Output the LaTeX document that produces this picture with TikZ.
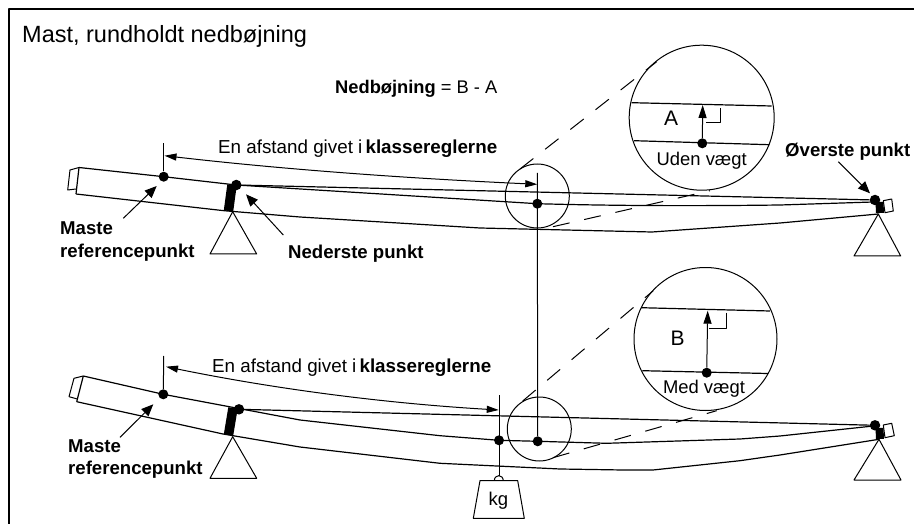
\documentclass[tikz,border=0pt]{standalone}
\usepackage{fontspec}
\setmainfont{Liberation Sans}
\usetikzlibrary{arrows.meta}
\tikzset{
  every path/.style={line join=round},
  thin line/.style={draw=black,line width=1pt},
  mast/.style={draw=black,line width=1.2pt},
  frame/.style={draw=black,line width=2pt},
  pad/.style={draw=black,line width=9.5pt},
  dot/.style={circle,fill=black,inner sep=0pt,minimum size=10.5pt},
  smalldot/.style={circle,fill=black,inner sep=0pt,minimum size=10pt},
  lead/.style={draw=black,line width=1pt,-{Triangle[length=12pt,width=10pt]}},
  dim/.style={draw=black,line width=1pt,{Triangle[length=12pt,width=7pt]}-{Triangle[length=12pt,width=7pt]}},
  lens/.style={draw=black,line width=1pt,dash pattern=on 17pt off 15pt},
  txt/.style={inner sep=0pt,anchor=base west,font=\fontsize{18.8}{22}\selectfont},
  bld/.style={inner sep=0pt,anchor=base west,font=\fontsize{18.6}{22}\selectfont\bfseries},
  mid/.style={inner sep=0pt,anchor=center},
}
\begin{document}
\begin{tikzpicture}[x=1pt,y=-1pt]
\useasboundingbox (0,0) rectangle (914,524);
\draw[frame] (9,524) -- (9,9) -- (914,9);

\node[txt,font=\fontsize{23.5}{27}\selectfont] (title) at (22,43) {Mast, rundholdt nedbøjning};
\node[txt,font=\fontsize{18.3}{22}\selectfont] (formula) at (335,93.3) {\textbf{Nedbøjning} = B - A};

% ---------- upper mast
\draw[thin line] (79,167.5) -- (70,170) -- (67.7,190) -- (76,189);
\draw[mast] (79,167.5) -- (76,194);
\node[smalldot] (uref) at (163.7,176.7) {};
\node[dot] (ulow) at (236.3,185) {};
\node[smalldot] (umid) at (537.3,203.7) {};
\node[dot] (utop) at (875,200) {};
\draw[mast] (79,167.5) -- (uref.center) -- (ulow.center) -- (umid.center)
  .. controls (620,206) and (700,206) .. (780,205) -- (873,202);
\draw[mast] (76,194) -- (224,210.7) -- (300,217) -- (480,228) -- (652,232) -- (780,223) -- (878.3,214);
\draw[mast] (ulow) -- (utop);
\draw[pad] (232,185) -- (228.5,211);
\draw[pad,line width=8pt] (879.5,202) -- (880,213);
\draw[thin line,fill=white] (883.3,200.7) -- (891.7,199) -- (893.3,211) -- (885,212.7) -- cycle;
\coordinate (uLA) at (232.7,211.7);
\draw[thin line] (uLA) -- (210,254) -- (256.7,254) -- cycle;
\coordinate (uRA) at (878.3,214);
\draw[thin line] (uRA) -- (854,256) -- (900.7,256) -- cycle;

\coordinate (utick) at (163.7,143.3);
\draw[thin line] (utick) -- (uref);
\coordinate (dL) at (164.5,155.7);
\coordinate (dR) at (537.3,184.3);
\draw[dim] (dL) .. controls (280,169) and (400,178) .. (dR);
\node[txt] (udist) at (218,153.3) {En afstand givet i\,\textbf{klassereglerne}};

% shared vertical
\node[smalldot] (lmid) at (537.7,441.3) {};
\coordinate (vtop) at (537.3,173);
\draw[thin line] (vtop) -- (lmid);

% leaders upper
\coordinate (ul1) at (123.3,218.3); \coordinate (ul1t) at (156.7,186);
\draw[lead] (ul1) -- (ul1t);
\coordinate (ul2) at (283.3,235); \coordinate (ul2t) at (246,194.3);
\draw[lead] (ul2) -- (ul2t);
\coordinate (ul3) at (838.3,161.7); \coordinate (ul3t) at (870,193.3);
\draw[lead] (ul3) -- (ul3t);
\node[bld] (m1) at (60,234.5) {Maste};
\node[bld] (r1) at (60,258) {referencepunkt};
\node[bld] (ned) at (288,258.3) {Nederste punkt};
\node[bld] (ove) at (785,156.5) {Øverste punkt};

% upper lens
\node[draw=black,line width=1pt,circle,inner sep=0pt,minimum size=64pt] (sA) at (537.3,196) {};
\node[draw=black,line width=1pt,circle,inner sep=0pt,minimum size=145pt] (bA) at (701.7,117.7) {};
\coordinate (a1) at (520,169); \coordinate (a2) at (656.7,61.7);
\coordinate (a3) at (553,226.7); \coordinate (a4) at (710,190.7);
\draw[lens] (a1) -- (a2);
\draw[lens] (a3) -- (a4);
\coordinate (aU1) at (631.7,102.7); \coordinate (aU2) at (771.7,106);
\coordinate (aL1) at (634,140.7); \coordinate (aL2) at (769.3,144.7);
\draw[mast] (aU1) -- (aU2);
\draw[mast] (aL1) -- (aL2);
\node[smalldot] (aD) at (702.3,143.3) {};
\coordinate (aT) at (702.7,105);
\draw[lead,-{Triangle[length=13pt,width=8pt]}] (aD) -- (aT);
\draw[thin line] (720,108.3) -- (720,122.7) -- (705.7,122.7);
\node[mid,font=\fontsize{21}{24}\selectfont] (lA) at (671,118) {A};
\node[mid,font=\fontsize{18.4}{20}\selectfont] (uv) at (701.7,161) {Uden vægt};

% ---------- lower mast
\draw[thin line] (83.3,376) -- (74,378.3) -- (69,396.7) -- (77.3,399);
\draw[mast] (83.3,376) -- (76.7,401.7);
\node[smalldot] (lref) at (163.3,394.3) {};
\node[dot] (llow) at (239,409.3) {};
\node[smalldot] (lfoot) at (499,440.3) {};
\node[dot] (ltop) at (875,425.3) {};
\draw[mast] (83.3,376) -- (lref.center) -- (300,420) -- (440,435.7) -- (lfoot.center) -- (lmid.center) -- (606.7,443.3) -- (740,439) -- (780,436) -- (873.3,426);
\draw[mast] (76.7,401.7) -- (223,434) -- (300,447) -- (440,463.3) -- (560,469) -- (623,470) -- (653,470) -- (740,460.7) -- (780,455) -- (879,439.3);
\draw[mast] (llow) -- (ltop);
\draw[pad] (233,408) -- (228.5,435);
\draw[pad,line width=8pt] (879.5,428) -- (880,439);
\draw[thin line,fill=white] (883.3,425) -- (891.7,423.3) -- (894.3,435.7) -- (885,437.7) -- cycle;
\coordinate (lLA) at (232.7,436.7);
\draw[thin line] (lLA) -- (210,478.3) -- (256.7,478.3) -- cycle;
\coordinate (lRA) at (879,439.3);
\draw[thin line] (lRA) -- (854,480) -- (901,480) -- cycle;

\coordinate (ltick) at (163.7,356);
\draw[thin line] (ltick) -- (lref);
\coordinate (ldL) at (166,366.7);
\coordinate (ldR) at (498.7,410);
\draw[dim] (ldL) .. controls (270,388) and (380,403) .. (ldR);
\node[txt] (ldist) at (212,372.5) {En afstand givet i\,\textbf{klassereglerne}};

\coordinate (ll1) at (120,437.3); \coordinate (ll1t) at (153.3,404.3);
\draw[lead] (ll1) -- (ll1t);
\node[bld] (m2) at (68,452) {Maste};
\node[bld] (r2) at (68,474) {referencepunkt};

% weight
\coordinate (ltick2) at (499,395);
\coordinate (hook) at (499,475.7);
\draw[thin line] (ltick2) -- (hook);
\draw[thin line] (480,480.7) -- (517.7,480.7) -- (524.3,518.3) -- (473.3,518.3) -- cycle;
\draw[thin line] (494.3,480.7) .. controls (494.5,474) and (503,474) .. (503.3,480.7);
\node[mid,font=\fontsize{18.5}{20}\selectfont] (kg) at (498.5,501) {kg};

% lower lens
\node[draw=black,line width=1pt,circle,inner sep=0pt,minimum size=64pt] (sB) at (539.3,429) {};
\node[draw=black,line width=1pt,circle,inner sep=0pt,minimum size=143pt] (bB) at (705.5,339) {};
\coordinate (b1) at (522.7,401); \coordinate (b2) at (653.3,290.7);
\coordinate (b3) at (553,457.7); \coordinate (b4) at (716.7,410.7);
\draw[lens] (b1) -- (b2);
\draw[lens] (b3) -- (b4);
\coordinate (bU1) at (641,307.7); \coordinate (bU2) at (770,311);
\coordinate (bL1) at (642.3,370.7); \coordinate (bL2) at (768,373.5);
\draw[mast] (bU1) -- (bU2);
\draw[mast] (bL1) -- (bL2);
\node[smalldot] (bD) at (706.7,372.7) {};
\coordinate (bT) at (707.7,310.7);
\draw[lead,-{Triangle[length=13pt,width=8pt]}] (bD) -- (bT);
\draw[thin line] (726,312.7) -- (726,328.3) -- (709.3,328.3);
\node[mid,font=\fontsize{21}{24}\selectfont] (lB) at (677.7,338.3) {B};
\node[mid,font=\fontsize{18.4}{20}\selectfont] (mv) at (704,389) {Med vægt};
\end{tikzpicture}
\end{document}
